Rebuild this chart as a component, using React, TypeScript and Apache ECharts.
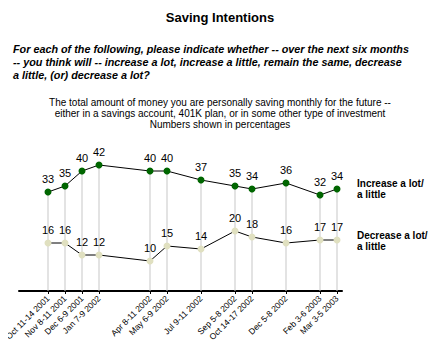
import React, { useEffect, useRef } from "react";
import * as echarts from "echarts";

const months = [
  "Oct 11-14 2001", "Nov 8-11 2001", "Dec 6-9 2001", "Jan 7-9 2002", "", "",
  "Apr 8-11 2002", "May 6-9 2002", "", "Jul 9-11 2002", "", "Sep 5-8 2002",
  "Oct 14-17 2002", "", "Dec 5-8 2002", "", "Feb 3-6 2003", "Mar 3-5 2003",
];
const increaseValues: (number | null)[] = [33, 35, 40, 42, null, null, 40, 40, null, 37, null, 35, 34, null, 36, null, 32, 34];
const decreaseValues: (number | null)[] = [16, 16, 12, 12, null, null, 10, 15, null, 14, null, 20, 18, null, 16, null, 17, 17];

const FONT = "Arial, 'Liberation Sans', sans-serif";

export default function App() {
  const ref = useRef<HTMLDivElement>(null);
  useEffect(() => {
    const chart = echarts.init(ref.current!, null, { renderer: "svg" });
    const labelStyle = { show: true, position: "top" as const, distance: 4, color: "#000", fontSize: 11, fontFamily: FONT };
    chart.setOption({
      animation: false,
      backgroundColor: "#fff",
      textStyle: { fontFamily: FONT },
      title: [
        { text: "Saving Intentions", left: "center", top: 6, textStyle: { fontSize: 13, fontWeight: "bold", color: "#000", fontFamily: FONT } },
        {
          text: "For each of the following, please indicate whether -- over the next six months\n-- you think will -- increase a lot, increase a little, remain the same, decrease\na little, (or) decrease a lot?",
          left: 8, top: 38,
          textStyle: { fontSize: 10.8, fontWeight: "bold", fontStyle: "italic", color: "#000", lineHeight: 12.6, fontFamily: FONT },
        },
        {
          text: "The total amount of money you are personally saving monthly for the future --\neither in a savings account, 401K plan, or in some other type of investment\nNumbers shown in percentages",
          left: "center", top: 92,
          textStyle: { fontSize: 10, fontWeight: "normal", color: "#000", lineHeight: 10.8, align: "center", fontFamily: FONT },
        },
      ],
      graphic: [
        { type: "text", left: 357, top: 178, style: { text: "Increase a lot/\na little", font: "bold 10px Arial, 'Liberation Sans', sans-serif", fill: "#000", lineHeight: 11 } },
        { type: "text", left: 357, top: 230, style: { text: "Decrease a lot/\na little", font: "bold 10px Arial, 'Liberation Sans', sans-serif", fill: "#000", lineHeight: 11 } },
      ],
      grid: [
        { left: 48, width: 289, top: 141, height: 150 },
        { left: 19, width: 323, top: 141, height: 150 },
      ],
      xAxis: [
        {
          type: "category", gridIndex: 0, data: months, boundaryGap: false,
          axisLine: { show: false },
          axisTick: { show: true, length: 3, interval: (i: number, v: string) => v !== "", lineStyle: { color: "#000" } },
          axisLabel: { interval: 0, rotate: 45, fontSize: 8.5, color: "#000", margin: 6, fontFamily: FONT },
          splitLine: { show: false },
        },
        {
          type: "value", gridIndex: 1, min: 0, max: 1,
          axisLine: { show: true, onZero: false, lineStyle: { color: "#000", width: 2 } },
          axisTick: { show: false }, axisLabel: { show: false }, splitLine: { show: false },
        },
      ],
      yAxis: [
        { type: "value", gridIndex: 0, min: 0, max: 50, show: false },
        { type: "value", gridIndex: 1, min: 0, max: 50, show: false },
      ],
      series: [
        {
          type: "bar", xAxisIndex: 0, yAxisIndex: 0, data: increaseValues, barWidth: 1,
          itemStyle: { color: "#c8c8c8" }, z: 1, silent: true,
        },
        {
          name: "Increase a lot/a little", type: "line", xAxisIndex: 0, yAxisIndex: 0, data: increaseValues,
          connectNulls: true, symbol: "circle", symbolSize: 7,
          lineStyle: { color: "#000", width: 1 }, itemStyle: { color: "#006600" },
          label: labelStyle, z: 3,
        },
        {
          name: "Decrease a lot/a little", type: "line", xAxisIndex: 0, yAxisIndex: 0, data: decreaseValues,
          connectNulls: true, symbol: "circle", symbolSize: 7,
          lineStyle: { color: "#000", width: 1 }, itemStyle: { color: "#e0e0c0" },
          label: labelStyle, z: 3,
        },
      ],
    });
    return () => chart.dispose();
  }, []);
  return <div ref={ref} style={{ width: 440, height: 350, margin: -8 }} />;
}
